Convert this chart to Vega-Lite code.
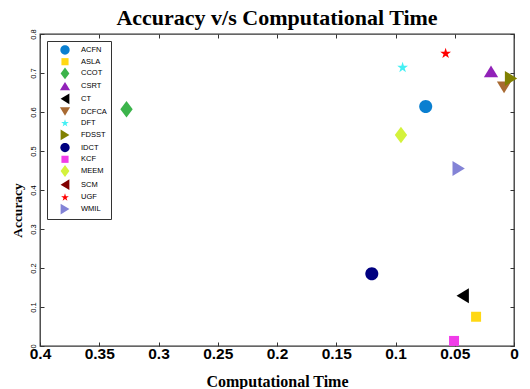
{
  "$schema": "https://vega.github.io/schema/vega-lite/v6.json",
  "width": 474,
  "height": 312,
  "autosize": {"type": "none"},
  "padding": {"left": 40, "top": 34, "right": 16, "bottom": 43},
  "background": "white",
  "title": {"text": "Accuracy v/s Computational Time", "font": "Liberation Serif", "fontSize": 22, "fontWeight": "bold", "color": "black", "anchor": "middle", "frame": "group", "baseline": "bottom", "offset": 4, "dy": 27},
  "config": {"view": {"stroke": "#333333", "strokeWidth": 1.3}},
  "data": {"values": [
    {"tracker": "ACFN", "time": 0.0745, "accuracy": 0.614},
    {"tracker": "ASLA", "time": 0.032, "accuracy": 0.075},
    {"tracker": "CCOT", "time": 0.327, "accuracy": 0.607},
    {"tracker": "CSRT", "time": 0.0194, "accuracy": 0.704},
    {"tracker": "CT", "time": 0.0433, "accuracy": 0.129},
    {"tracker": "DCFCA", "time": 0.0084, "accuracy": 0.663},
    {"tracker": "DFT", "time": 0.094, "accuracy": 0.714},
    {"tracker": "FDSST", "time": 0.0025, "accuracy": 0.686},
    {"tracker": "IDCT", "time": 0.12, "accuracy": 0.185},
    {"tracker": "KCF", "time": 0.0506, "accuracy": 0.013},
    {"tracker": "MEEM", "time": 0.0954, "accuracy": 0.541},
    {"tracker": "UGF", "time": 0.0577, "accuracy": 0.75},
    {"tracker": "WMIL", "time": 0.0467, "accuracy": 0.455}
  ]},
  "layer": [
    {
      "mark": {"type": "point", "filled": true, "opacity": 1, "size": 196, "strokeWidth": 0},
      "encoding": {
        "x": {"field": "time", "type": "quantitative",
          "scale": {"domain": [0, 0.4], "reverse": true, "nice": false, "zero": false},
          "axis": {"orient": "bottom", "values": [0, 0.05, 0.1, 0.15, 0.2, 0.25, 0.3, 0.35, 0.4], "format": "~g", "domain": false, "grid": false, "tickSize": -4, "tickColor": "#333333", "tickWidth": 1, "labelFont": "Liberation Sans", "labelFontWeight": "bold", "labelFontSize": 15.5, "labelColor": "black", "labelPadding": 4, "labelFlush": false, "labelOverlap": false, "title": "Computational Time", "titleFont": "Liberation Serif", "titleFontSize": 16, "titleFontWeight": "bold", "titleColor": "black", "titleY": 35, "titleBaseline": "middle"}},
        "y": {"field": "accuracy", "type": "quantitative",
          "scale": {"domain": [0, 0.8], "nice": false, "zero": false},
          "axis": {"orient": "left", "values": [0, 0.1, 0.2, 0.3, 0.4, 0.5, 0.6, 0.7, 0.8], "format": "~g", "domain": false, "grid": false, "tickSize": -4, "tickColor": "#333333", "tickWidth": 1, "labelFont": "Liberation Sans", "labelFontSize": 7.5, "labelColor": "black", "labelAngle": 270, "labelAlign": "center", "labelBaseline": "bottom", "labelPadding": 7, "labelFlush": false, "labelOverlap": false, "title": "Accuracy", "titleFont": "Liberation Serif", "titleFontSize": 13.5, "titleFontWeight": "bold", "titleColor": "black", "titleAngle": 270, "titleX": -23, "titleY": 176, "titleBaseline": "middle", "titleAlign": "center"}},
        "color": {"field": "tracker", "type": "nominal",
          "scale": {"domain": ["ACFN", "ASLA", "CCOT", "CSRT", "CT", "DCFCA", "DFT", "FDSST", "IDCT", "KCF", "MEEM", "SCM", "UGF", "WMIL"],
            "range": ["#0a7fd0", "#ffd814", "#3cb44b", "#9122b8", "#000000", "#a86a32", "#44f0f4", "#808000", "#000080", "#f03ce8", "#d4f23c", "#800000", "#ff0000", "#8383d6"]},
          "legend": {"orient": "none", "legendX": 7, "legendY": 7, "title": null, "padding": 4, "strokeColor": "#333333", "fillColor": "white", "symbolSize": 100, "symbolStrokeWidth": 0, "symbolOffset": 9, "labelOffset": 11, "labelFont": "Liberation Sans", "labelFontSize": 7.5, "labelColor": "black", "rowPadding": 1.7}},
        "shape": {"field": "tracker", "type": "nominal",
          "scale": {"domain": ["ACFN", "ASLA", "CCOT", "CSRT", "CT", "DCFCA", "DFT", "FDSST", "IDCT", "KCF", "MEEM", "SCM", "UGF", "WMIL"],
            "range": [
              "M0.93,0A0.93,0.93,0,1,1,-0.93,0A0.93,0.93,0,1,1,0.93,0Z",
              "M-0.714,-0.714H0.714V0.714H-0.714Z",
              "M0,-1.19L0.88,0L0,1.19L-0.88,0Z",
              "M0,-0.836L1.02,0.836L-1.02,0.836Z",
              "M-0.88,0L0.88,-1.07L0.88,1.07Z",
              "M0,0.836L1.02,-0.836L-1.02,-0.836Z",
              "M0,-0.81L0.182,-0.251L0.77,-0.25L0.295,0.096L0.476,0.655L0,0.31L-0.476,0.655L-0.295,0.096L-0.77,-0.25L-0.182,-0.251Z",
              "M0.88,0L-0.88,-1.07L-0.88,1.07Z",
              "M0.93,0A0.93,0.93,0,1,1,-0.93,0A0.93,0.93,0,1,1,0.93,0Z",
              "M-0.714,-0.714H0.714V0.714H-0.714Z",
              "M0,-1.19L0.88,0L0,1.19L-0.88,0Z",
              "M-0.88,0L0.88,-1.07L0.88,1.07Z",
              "M0,-0.81L0.182,-0.251L0.77,-0.25L0.295,0.096L0.476,0.655L0,0.31L-0.476,0.655L-0.295,0.096L-0.77,-0.25L-0.182,-0.251Z",
              "M0.88,0L-0.88,-1.07L-0.88,1.07Z"
            ]},
          "legend": {"orient": "none", "legendX": 7, "legendY": 7, "title": null, "padding": 4, "strokeColor": "#333333", "fillColor": "white", "symbolSize": 100, "symbolStrokeWidth": 0, "symbolOffset": 9, "labelOffset": 11, "labelFont": "Liberation Sans", "labelFontSize": 7.5, "labelColor": "black", "rowPadding": 1.7}}
      }
    },
    {
      "mark": {"type": "point", "opacity": 0},
      "encoding": {
        "x": {"field": "time", "type": "quantitative",
          "axis": {"orient": "top", "values": [0, 0.05, 0.1, 0.15, 0.2, 0.25, 0.3, 0.35, 0.4], "labels": false, "title": null, "domain": false, "grid": false, "tickSize": -4, "tickColor": "#333333", "tickWidth": 1}},
        "y": {"field": "accuracy", "type": "quantitative",
          "axis": {"orient": "right", "values": [0, 0.1, 0.2, 0.3, 0.4, 0.5, 0.6, 0.7, 0.8], "labels": false, "title": null, "domain": false, "grid": false, "tickSize": -4, "tickColor": "#333333", "tickWidth": 1}}
      }
    }
  ],
  "resolve": {"axis": {"x": "independent", "y": "independent"}}
}
